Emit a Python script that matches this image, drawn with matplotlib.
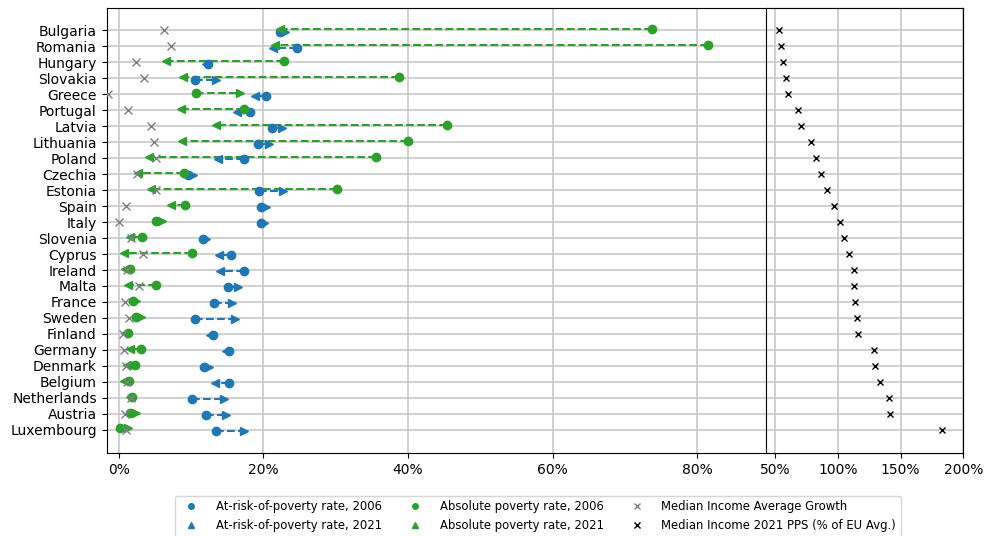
import matplotlib.pyplot as plt
from matplotlib.lines import Line2D
from matplotlib.ticker import PercentFormatter

countries = ["Bulgaria", "Romania", "Hungary", "Slovakia", "Greece", "Portugal",
             "Latvia", "Lithuania", "Poland", "Czechia", "Estonia", "Spain", "Italy",
             "Slovenia", "Cyprus", "Ireland", "Malta", "France", "Sweden", "Finland",
             "Germany", "Denmark", "Belgium", "Netherlands", "Austria", "Luxembourg"]

arop_2006 = [22.3, 24.6, 12.3, 10.5, 20.3, 18.2, 21.2, 19.2, 17.3, 9.6, 19.4, 19.7, 19.6,
             11.6, 15.5, 17.3, 15.1, 13.1, 10.5, 13.0, 15.2, 11.8, 15.2, 10.1, 12.0, 13.5]
arop_2021 = [23.0, 21.3, 12.0, 13.5, 18.8, 16.4, 22.5, 20.8, 13.7, 10.3, 22.7, 20.4, 20.1,
             12.0, 13.8, 14.0, 16.5, 15.6, 16.1, 12.6, 14.8, 12.4, 13.3, 14.5, 14.8, 17.3]
abs_2006 = [73.7, 81.5, 22.9, 38.7, 10.7, 17.3, 45.4, 40.0, 35.6, 9.0, 30.2, 9.1, 5.2,
            3.2, 10.1, 1.5, 5.1, 1.9, 2.4, 1.2, 3.0, 2.2, 1.4, 1.8, 1.5, 0.2]
abs_2021 = [22.3, 21.6, 6.5, 8.9, 16.7, 8.6, 13.4, 8.7, 4.2, 2.6, 4.5, 7.2, 5.9,
            1.5, 0.7, 0.8, 1.2, 2.4, 3.1, 0.9, 1.5, 1.1, 0.7, 1.6, 2.4, 1.3]
income_growth = [6.2, 7.2, 2.4, 3.5, -1.5, 1.3, 4.5, 4.8, 5.1, 2.5, 5.1, 1.0, 0.0,
                 1.7, 3.3, 1.1, 2.8, 0.8, 1.4, 0.6, 0.7, 1.0, 1.1, 1.7, 0.9, 1.0]
income_pps = [53.2, 54.5, 56.4, 58.3, 60.1, 68.1, 70.5, 78.8, 82.8, 86.3, 91.3, 96.7, 101.5,
              104.5, 108.7, 112.5, 112.7, 113.5, 115.1, 116.2, 128.8, 129.6, 133.3, 140.8,
              141.3, 182.7]

blue = "tab:blue"
green = "tab:green"

fig = plt.figure(figsize=(9.87, 5.36), dpi=100)
ax = fig.add_axes([0.108, 0.155, 0.868, 0.83])

n = len(countries)
ys = [n - 1 - i for i in range(n)]

for i, y in enumerate(ys):
    # at-risk-of-poverty (blue), slightly below the row
    yb = y - 0.08
    ax.plot([arop_2006[i], arop_2021[i]], [yb, yb], "--", color=blue, lw=1.5, zorder=3)
    ax.plot(arop_2006[i], yb, "o", color=blue, ms=6, zorder=4)
    m = ">" if arop_2021[i] >= arop_2006[i] else "<"
    ax.plot(arop_2021[i], yb, m, color=blue, ms=6, zorder=4)
    # absolute poverty (green), slightly above the row
    yg = y + 0.08
    ax.plot([abs_2006[i], abs_2021[i]], [yg, yg], "--", color=green, lw=1.5, zorder=3)
    ax.plot(abs_2006[i], yg, "o", color=green, ms=6, zorder=4)
    m = ">" if abs_2021[i] >= abs_2006[i] else "<"
    ax.plot(abs_2021[i], yg, m, color=green, ms=6, zorder=4)

ax.plot(income_growth, ys, "x", color="gray", ms=6, zorder=5)

ax.set_yticks(ys)
ax.set_yticklabels(countries)
ax.set_ylim(-1.45, n - 1 + 1.4)
ax.set_xlim(-1.7, 116.8)
ax.set_xticks([0, 20, 40, 60, 80])
ax.xaxis.set_major_formatter(PercentFormatter(decimals=0))
ax.tick_params(labelsize=10)
ax.grid(True, color="#c8c8c8", lw=1.2)
ax.set_axisbelow(True)

# inset for income in PPS
ax2 = fig.add_axes([0.776, 0.155, 0.2, 0.83])
ax2.plot(income_pps, ys, "x", color="black", ms=5)
ax2.set_ylim(ax.get_ylim())
ax2.set_yticks(ys)
ax2.set_yticklabels([])
ax2.tick_params(axis="y", length=0)
ax2.set_xlim(42.5, 200)
ax2.set_xticks([50, 100, 150, 200])
ax2.xaxis.set_major_formatter(PercentFormatter(decimals=0))
ax2.tick_params(labelsize=10)
ax2.grid(True, color="#c8c8c8", lw=1.2)
ax2.set_axisbelow(True)

handles = [
    Line2D([], [], ls="", marker="o", color=blue, ms=4, label="At-risk-of-poverty rate, 2006"),
    Line2D([], [], ls="", marker="^", color=blue, ms=4, label="At-risk-of-poverty rate, 2021"),
    Line2D([], [], ls="", marker="o", color=green, ms=4, label="Absolute poverty rate, 2006"),
    Line2D([], [], ls="", marker="^", color=green, ms=4, label="Absolute poverty rate, 2021"),
    Line2D([], [], ls="", marker="x", color="gray", ms=4, label="Median Income Average Growth"),
    Line2D([], [], ls="", marker="x", color="black", ms=4, label="Median Income 2021 PPS (% of EU Avg.)"),
]
fig.legend(handles=handles, loc="upper center", bbox_to_anchor=(0.545, 0.086),
           ncol=3, fontsize="small", handletextpad=1.1, columnspacing=1.9)

fig.savefig("out.png")
